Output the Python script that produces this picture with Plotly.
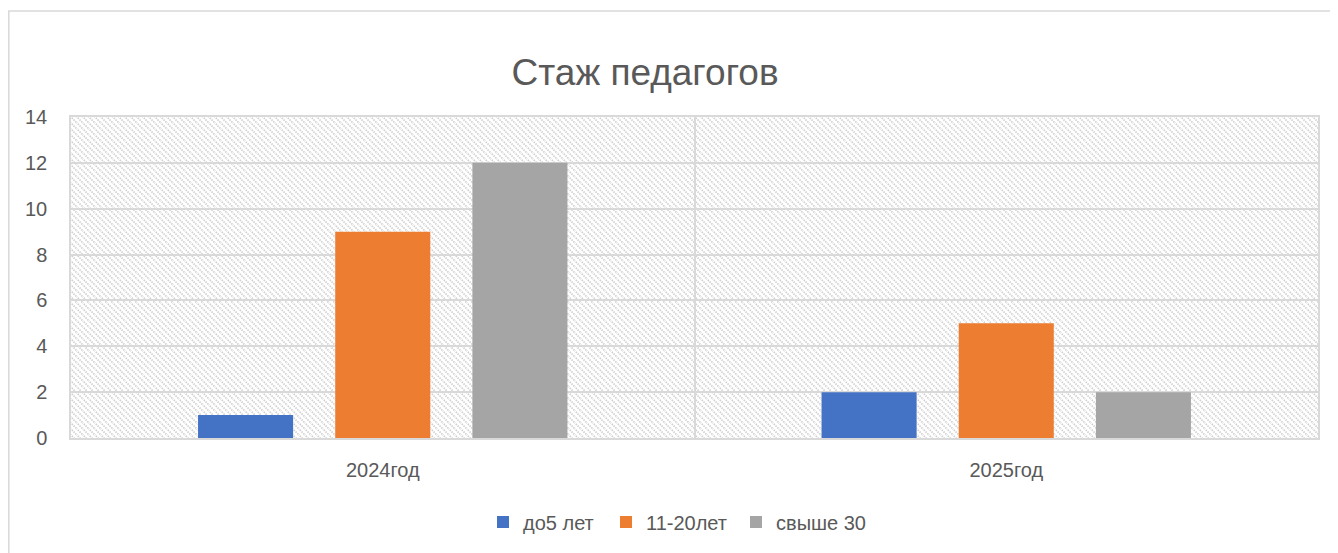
import plotly.graph_objects as go
import base64

categories = ["2024год", "2025год"]
series_names = ["до5 лет", "11-20лет", "свыше 30"]
do5 = [1, 2]
s11_20 = [9, 5]
over30 = [12, 2]
colors = ["#4472C4", "#ED7D31", "#A5A5A5"]
y_ticks = [0, 2, 4, 6, 8, 10, 12, 14]

# page body has an 8px margin, so the figure is sized to fill the rest of the window
W, H = 1330, 545
L, R, T, B = 63, 20, 109, 115
pw, ph = W - L - R, H - T - B

svg = f'''<svg xmlns="http://www.w3.org/2000/svg" width="{pw}" height="{ph}" viewBox="0 0 {pw} {ph}" preserveAspectRatio="none">
<defs><pattern id="p" width="6" height="6" patternUnits="userSpaceOnUse">
<path d="M-1,-1 L7,7 M-1,5 L1,7 M5,-1 L7,1" stroke="#cfcfcf" stroke-width="1.7" stroke-dasharray="1.5,1"/>
</pattern></defs>
<rect width="{pw}" height="{ph}" fill="white"/>
<rect width="{pw}" height="{ph}" fill="url(#p)"/>
</svg>'''
src = "data:image/svg+xml;base64," + base64.b64encode(svg.encode()).decode()

legend_ids = ["legend", "legend2", "legend3"]
legend_left_px = [497, 620, 750]  # page x of each legend swatch in the reference

fig = go.Figure()
for name, vals, col, lid in zip(series_names, [do5, s11_20, over30], colors, legend_ids):
    fig.add_trace(go.Bar(name=name, x=categories, y=vals, legend=lid, showlegend=True,
                         marker=dict(color=col, line=dict(width=0))))

font = "Liberation Sans, Arial, sans-serif"
legend_common = dict(orientation="h", xanchor="left", y=-0.262, yanchor="middle",
                     font=dict(size=20, color="#595959"), itemwidth=30, bgcolor="rgba(0,0,0,0)")
legends = {}
for lid, px in zip(legend_ids, legend_left_px):
    legends[lid] = dict(legend_common, x=(px - 14 - 71) / pw)

fig.update_layout(
    width=W, height=H,
    margin=dict(l=L, r=R, t=T, b=B),
    showlegend=True,
    paper_bgcolor="white", plot_bgcolor="rgba(0,0,0,0)",
    barmode="group", bargap=0.34, bargroupgap=0.307,
    title=dict(text="Стаж педагогов", x=0.479, xanchor="center", y=1 - 64 / H, yanchor="middle",
               font=dict(family=font, size=37, color="#595959")),
    font=dict(family=font, color="#595959"),
    images=[dict(source=src, xref="paper", yref="paper", x=0, y=1, sizex=1, sizey=1,
                 xanchor="left", yanchor="top", sizing="stretch", layer="below")],
    shapes=[dict(type="rect", xref="paper", yref="paper", x0=(0.8 - L) / pw, x1=1.2,
                 y0=-0.6, y1=(H - B - 3) / ph, line=dict(color="#d9d9d9", width=1.5),
                 fillcolor="rgba(0,0,0,0)", layer="below")],
    **legends,
)
fig.update_yaxes(range=[0, 14], tickvals=y_ticks, showgrid=True, gridcolor="#d9d9d9", gridwidth=1.5,
                 zeroline=False, showline=True, linecolor="#d9d9d9", linewidth=1.5, mirror=True,
                 ticks="outside", ticklen=18, tickcolor="rgba(0,0,0,0)",
                 tickfont=dict(size=20, color="#595959"))
fig.update_xaxes(tickson="boundaries", showgrid=True, gridcolor="#d9d9d9", gridwidth=1.5,
                 showline=True, linecolor="#d9d9d9", linewidth=1.5, mirror=True,
                 ticks="", ticklabelstandoff=13,
                 tickfont=dict(size=20, color="#595959"))

fig.write_html("out.html")
